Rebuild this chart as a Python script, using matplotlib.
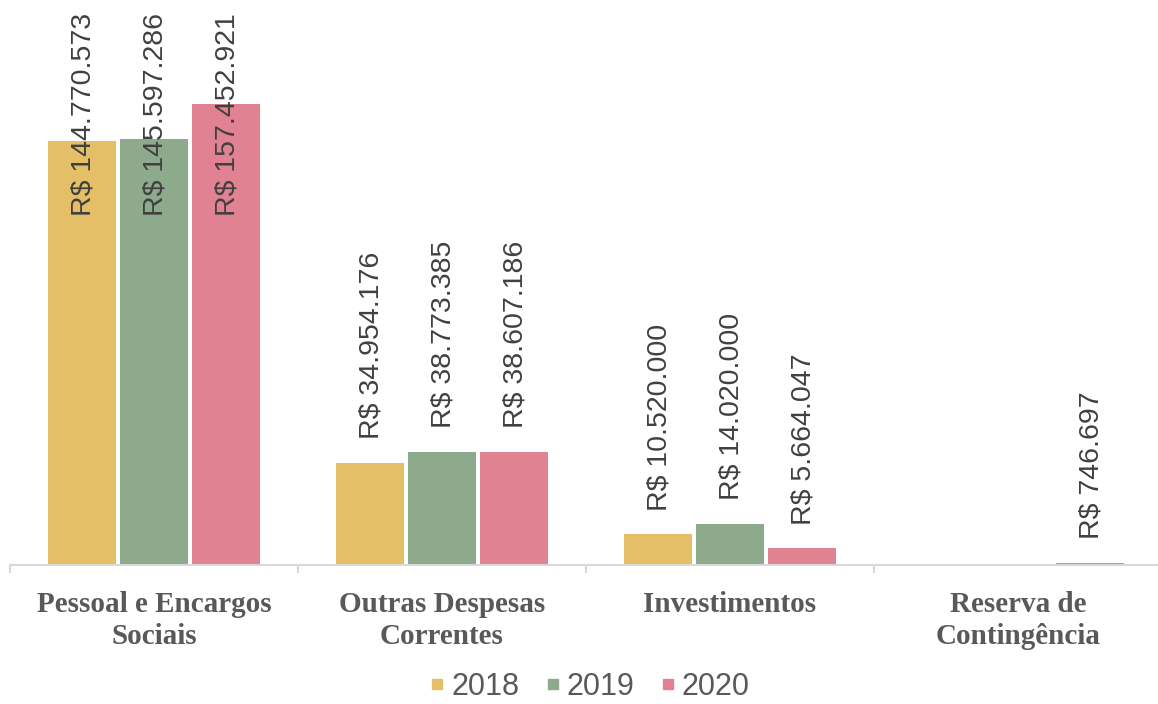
import numpy as np
import matplotlib
matplotlib.use("Agg")
import matplotlib.pyplot as plt
from matplotlib.lines import Line2D

# values in R$
categories = ["Pessoal e Encargos\nSociais", "Outras Despesas\nCorrentes",
              "Investimentos", "Reserva de\nContingência"]
years = ["2018", "2019", "2020"]
v2018 = [144770573, 34954176, 10520000, None]
v2019 = [145597286, 38773385, 14020000, None]
v2020 = [157452921, 38607186, 5664047, 746697]
colors = ["#E5BF68", "#8DAA8D", "#E08291"]

def fmt(v):
    return "R$ " + f"{v:,.0f}".replace(",", ".")

fig = plt.figure(figsize=(11.58, 7.04), dpi=100)
ax = fig.add_axes([10 / 1158, 139 / 704, 1152 / 1158, 556 / 704])
ymax = 190e6
ax.set_xlim(-0.5, 3.5)
ax.set_ylim(0, ymax)

x = np.arange(len(categories))
width = 0.236
step = 0.25
fig.canvas.draw()
renderer = fig.canvas.get_renderer()

for i, (yr, vals) in enumerate(zip(years, [v2018, v2019, v2020])):
    xs = x + (i - 1) * step
    for xi, v in zip(xs, vals):
        if v is None:
            continue
        ax.bar(xi, v, width=width, color=colors[i], edgecolor="none", zorder=1)
        t = ax.annotate(fmt(v), (xi, v), xytext=(1, 17), textcoords="offset points",
                        rotation=90, ha="center", va="bottom", fontsize=20.5,
                        family="Liberation Sans", color="#404040")
        bb = t.get_window_extent(renderer)
        axbb = ax.get_window_extent(renderer)
        if bb.y1 > axbb.y1 - 3:
            t.remove()
            ax.annotate(fmt(v), (xi, ymax), xytext=(1, -3), textcoords="offset points",
                        rotation=90, ha="center", va="top", fontsize=20.5,
                        family="Liberation Sans", color="#404040")

for s in ["top", "right", "left"]:
    ax.spines[s].set_visible(False)
ax.spines["bottom"].set_color("#D9D9D9")
ax.spines["bottom"].set_linewidth(1.5)
ax.spines["bottom"].set_zorder(3)
ax.set_yticks([])
ax.set_xticks(np.arange(-0.5, 4.0, 1.0))
ax.set_xticklabels([])
ax.tick_params(axis="x", which="major", length=6, width=1.5, color="#D9D9D9")
ax.set_xticks(x, minor=True)
ax.set_xticklabels(categories, minor=True, fontsize=21, family="Liberation Serif",
                   fontweight="bold", color="#595959", linespacing=1.2)
ax.tick_params(axis="x", which="minor", length=0, pad=19)

handles = [Line2D([], [], marker="s", linestyle="none", markersize=7.5,
                  color=c) for c in colors]
leg = fig.legend(handles, years, loc="center", bbox_to_anchor=(0.51, 0.024), ncol=3,
                 frameon=False, handlelength=0.4, handletextpad=0.25,
                 columnspacing=0.9, borderpad=0.1,
                 prop={"family": "Liberation Sans", "size": 22})
for t in leg.get_texts():
    t.set_color("#595959")

fig.savefig("out.png", dpi=100)
